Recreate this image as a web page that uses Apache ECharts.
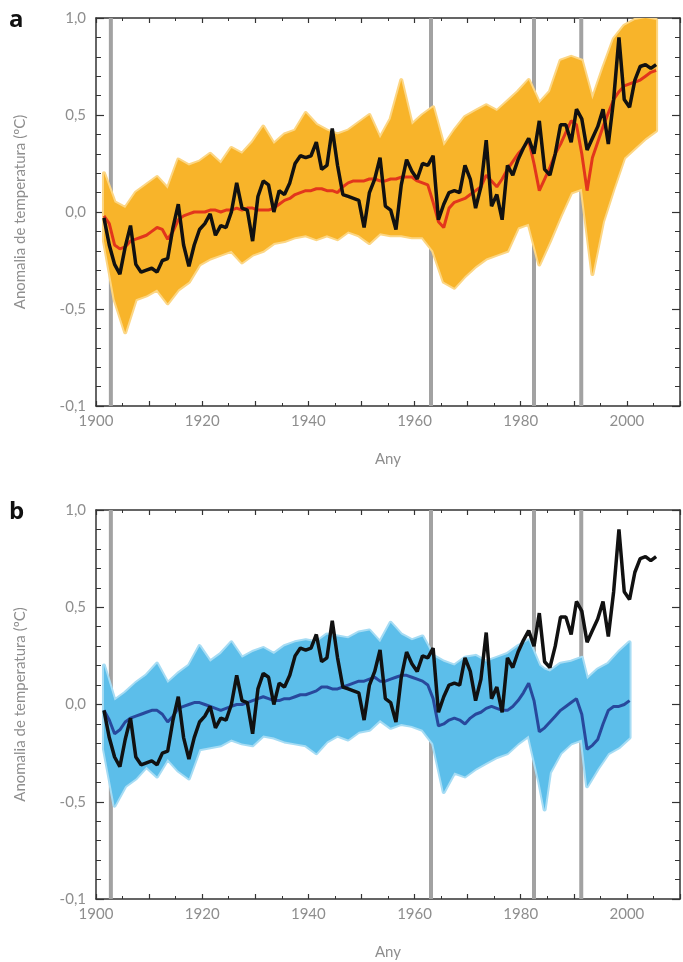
<!DOCTYPE html>
<html>
<head>
<meta charset="utf-8">
<title>Anomalia de temperatura</title>
<script src="https://cdn.jsdelivr.net/npm/echarts@6/dist/echarts.min.js"></script>
<style>
  html, body { margin: 0; padding: 0; background: #fff; }
  #chart { width: 683px; height: 962px; }
</style>
</head>
<body>
<div id="chart"></div>
<script>
// annual means, plotted mid-year
const MID = 0.5;

const obsYears = [];
for (let y = 1901; y <= 2005; y++) obsYears.push(y);

const observed = [
  -0.03, -0.17, -0.27, -0.32, -0.18, -0.07, -0.27, -0.31, -0.30, -0.29,
  -0.31, -0.25, -0.24, -0.08, 0.04, -0.17, -0.28, -0.17, -0.09, -0.06,
  -0.01, -0.12, -0.07, -0.08, 0.00, 0.15, 0.02, 0.01, -0.15, 0.08,
  0.16, 0.14, 0.00, 0.11, 0.09, 0.15, 0.25, 0.29, 0.28, 0.29,
  0.36, 0.22, 0.24, 0.43, 0.24, 0.09, 0.08, 0.07, 0.06, -0.08,
  0.10, 0.17, 0.28, 0.03, 0.01, -0.09, 0.14, 0.27, 0.21, 0.17,
  0.25, 0.24, 0.29, -0.04, 0.04, 0.10, 0.11, 0.10, 0.24, 0.17,
  0.02, 0.13, 0.37, 0.03, 0.09, -0.04, 0.24, 0.19, 0.27, 0.33,
  0.38, 0.30, 0.47, 0.22, 0.19, 0.30, 0.45, 0.45, 0.36, 0.53,
  0.48, 0.32, 0.38, 0.44, 0.53, 0.35, 0.58, 0.90, 0.58, 0.54,
  0.68, 0.75, 0.76, 0.74, 0.76
];

// multi-model mean, natural + anthropogenic forcing (red)
const allForcingMean = [
  -0.02, -0.06, -0.17, -0.19, -0.18, -0.15, -0.14, -0.13, -0.12, -0.10,
  -0.08, -0.09, -0.14, -0.10, -0.04, -0.02, -0.01, 0.00, 0.00, 0.00,
  0.01, 0.01, 0.00, 0.01, 0.01, 0.02, 0.01, 0.02, 0.02, 0.01,
  0.01, 0.01, 0.02, 0.04, 0.06, 0.07, 0.09, 0.10, 0.11, 0.11,
  0.12, 0.12, 0.11, 0.11, 0.10, 0.13, 0.15, 0.16, 0.16, 0.16,
  0.17, 0.17, 0.16, 0.16, 0.17, 0.17, 0.18, 0.18, 0.18, 0.16,
  0.15, 0.14, 0.05, -0.05, -0.08, 0.02, 0.05, 0.06, 0.07, 0.09,
  0.11, 0.13, 0.19, 0.16, 0.13, 0.17, 0.22, 0.26, 0.30, 0.33,
  0.37, 0.25, 0.11, 0.17, 0.23, 0.30, 0.35, 0.41, 0.47, 0.45,
  0.30, 0.11, 0.28, 0.36, 0.44, 0.51, 0.58, 0.62, 0.65, 0.66,
  0.67, 0.68, 0.70, 0.72, 0.73
];

// spread of the all-forcing simulations (yellow)
const ensAYears = [
  1901, 1903, 1905, 1907, 1909, 1911, 1913, 1915, 1917, 1919,
  1921, 1923, 1925, 1927, 1929, 1931, 1933, 1935, 1937, 1939,
  1941, 1943, 1945, 1947, 1949, 1951, 1953, 1955, 1957, 1959,
  1961, 1963, 1965, 1967, 1969, 1971, 1973, 1975, 1977, 1979,
  1981, 1983, 1985, 1987, 1989, 1991, 1993, 1995, 1997, 1999,
  2001, 2003, 2005
];
const ensAHigh = [
  0.20, 0.05, 0.02, 0.10, 0.14, 0.18, 0.12, 0.27, 0.24, 0.26,
  0.30, 0.25, 0.33, 0.30, 0.36, 0.44, 0.35, 0.40, 0.42, 0.51,
  0.45, 0.42, 0.40, 0.42, 0.46, 0.50, 0.38, 0.48, 0.68, 0.45,
  0.50, 0.54, 0.34, 0.42, 0.49, 0.52, 0.55, 0.52, 0.57, 0.62,
  0.68, 0.56, 0.62, 0.78, 0.80, 0.78, 0.58, 0.74, 0.89, 0.96,
  0.99, 1.00, 0.99
];
const ensALow = [
  -0.15, -0.45, -0.62, -0.45, -0.43, -0.40, -0.47, -0.40, -0.36, -0.27,
  -0.24, -0.22, -0.20, -0.26, -0.22, -0.20, -0.16, -0.15, -0.13, -0.12,
  -0.14, -0.12, -0.14, -0.10, -0.12, -0.16, -0.11, -0.12, -0.12, -0.13,
  -0.13, -0.20, -0.36, -0.39, -0.33, -0.28, -0.24, -0.22, -0.20, -0.08,
  -0.06, -0.27, -0.15, -0.02, 0.10, 0.12, -0.32, -0.05, 0.12, 0.28,
  0.33, 0.38, 0.42
];

// natural forcing only: mean (dark blue) and spread (light blue)
const natYears = [];
for (let y = 1901; y <= 2000; y++) natYears.push(y);
const naturalMean = [
  -0.03, -0.08, -0.15, -0.13, -0.09, -0.07, -0.06, -0.05, -0.04, -0.03,
  -0.03, -0.05, -0.09, -0.06, -0.02, -0.01, 0.00, 0.01, 0.01, 0.00,
  -0.01, -0.02, -0.03, -0.02, -0.01, 0.00, 0.00, 0.01, 0.02, 0.03,
  0.04, 0.03, 0.02, 0.02, 0.03, 0.03, 0.04, 0.05, 0.05, 0.06,
  0.07, 0.09, 0.09, 0.08, 0.08, 0.09, 0.10, 0.11, 0.12, 0.12,
  0.13, 0.14, 0.12, 0.12, 0.13, 0.14, 0.15, 0.15, 0.14, 0.13,
  0.12, 0.10, 0.03, -0.11, -0.10, -0.08, -0.07, -0.08, -0.10, -0.07,
  -0.05, -0.04, -0.02, -0.01, -0.02, -0.03, -0.03, -0.01, 0.02, 0.06,
  0.11, 0.02, -0.14, -0.12, -0.09, -0.06, -0.03, -0.01, 0.01, 0.03,
  -0.05, -0.23, -0.21, -0.18, -0.10, -0.03, -0.01, -0.01, 0.00, 0.02
];
const ensNYears = [
  1901, 1903, 1905, 1907, 1909, 1911, 1913, 1915, 1917, 1919,
  1921, 1923, 1925, 1927, 1929, 1931, 1933, 1935, 1937, 1939,
  1941, 1943, 1945, 1947, 1949, 1951, 1953, 1955, 1957, 1959,
  1961, 1963, 1965, 1967, 1969, 1971, 1973, 1975, 1977, 1979,
  1981, 1983, 1984, 1985, 1987, 1989, 1991, 1992, 1994, 1996,
  1998, 2000
];
const ensNHigh = [
  0.20, 0.02, 0.06, 0.11, 0.15, 0.21, 0.11, 0.16, 0.20, 0.30,
  0.22, 0.26, 0.32, 0.24, 0.27, 0.29, 0.26, 0.30, 0.32, 0.33,
  0.32, 0.36, 0.35, 0.34, 0.37, 0.38, 0.32, 0.42, 0.36, 0.33,
  0.35, 0.25, 0.22, 0.20, 0.24, 0.25, 0.22, 0.24, 0.26, 0.30,
  0.33, 0.20, 0.18, 0.17, 0.21, 0.22, 0.24, 0.13, 0.18, 0.21,
  0.27, 0.32
];
const ensNLow = [
  -0.23, -0.52, -0.42, -0.38, -0.32, -0.37, -0.28, -0.34, -0.38, -0.23,
  -0.22, -0.21, -0.18, -0.20, -0.21, -0.16, -0.17, -0.19, -0.20, -0.21,
  -0.25, -0.19, -0.16, -0.18, -0.14, -0.13, -0.08, -0.12, -0.10, -0.11,
  -0.13, -0.20, -0.45, -0.35, -0.37, -0.33, -0.30, -0.27, -0.25, -0.20,
  -0.16, -0.40, -0.54, -0.35, -0.25, -0.20, -0.18, -0.42, -0.33, -0.25,
  -0.22, -0.17
];

// major volcanic eruptions (grey bars)
const eruptions = [1902.8, 1963.1, 1982.5, 1991.4];

const yTickLabels = { '-1': '-0,1', '-0.5': '-0,5', '0': '0,0', '0.5': '0,5', '1': '1,0' };

const FONT = 'Lato, "Open Sans", sans-serif';
const GREY_TEXT = '#8e8e8e';

const chart = echarts.init(document.getElementById('chart'), null, { renderer: 'canvas' });

const pairs = (xs, ys) => xs.map((x, i) => [x + MID, ys[i]]);

// envelope of the model runs: a pale fringe underneath, the dense core on top
function bandRenderer(xs, hi, lo, fill, fringe, opacity) {
  return function (params, api) {
    const pts = [];
    for (let i = 0; i < xs.length; i++) pts.push(api.coord([xs[i] + MID, hi[i]]));
    for (let i = xs.length - 1; i >= 0; i--) pts.push(api.coord([xs[i] + MID, lo[i]]));
    return {
      type: 'group',
      children: [
        { type: 'polygon', shape: { points: pts }, style: { fill: fringe, stroke: fringe, lineWidth: 4, lineJoin: 'round' } },
        { type: 'polygon', shape: { points: pts }, style: { fill: fill, opacity: opacity } }
      ]
    };
  };
}

function eruptionRenderer(params, api) {
  const top = api.coord([api.value(0), 1]);
  const bottom = api.coord([api.value(0), -1]);
  return {
    type: 'rect',
    shape: { x: top[0] - 2, y: top[1], width: 4, height: bottom[1] - top[1] },
    style: { fill: '#a2a2a2' }
  };
}

function xAxisFor(grid, pos) {
  const bottom = pos === 'bottom';
  return {
    gridIndex: grid,
    type: 'value',
    position: pos,
    min: 1900,
    max: 2010,
    interval: 10,
    axisLine: { show: true, onZero: false, lineStyle: { color: '#333', width: 1.5 } },
    axisTick: { show: true, inside: true, length: 5, lineStyle: { color: '#333', width: 1.2 } },
    minorTick: { show: true, splitNumber: 2, length: 3, lineStyle: { color: '#333', width: 1 } },
    splitLine: { show: false },
    axisLabel: {
      show: bottom,
      margin: 8,
      color: GREY_TEXT,
      fontSize: 15,
      fontFamily: FONT,
      formatter: v => (v % 20 === 0 && v < 2010 ? String(v) : '')
    },
    name: bottom ? 'Any' : '',
    nameLocation: 'middle',
    nameGap: 46,
    nameTextStyle: { color: GREY_TEXT, fontSize: 15, fontFamily: FONT }
  };
}

function yAxisFor(grid, pos) {
  const left = pos === 'left';
  return {
    gridIndex: grid,
    type: 'value',
    position: pos,
    min: -1,
    max: 1,
    interval: 0.5,
    axisLine: { show: true, onZero: false, lineStyle: { color: '#333', width: 1.5 } },
    axisTick: { show: true, inside: true, length: 8, lineStyle: { color: '#333', width: 1.2 } },
    minorTick: { show: true, splitNumber: 5, length: 5, lineStyle: { color: '#333', width: 1 } },
    splitLine: { show: false },
    axisLabel: {
      show: left,
      margin: 10,
      color: GREY_TEXT,
      fontSize: 15,
      fontFamily: FONT,
      formatter: v => yTickLabels[String(v)] || ''
    },
    name: left ? 'Anomalia de temperatura (ºC)' : '',
    nameLocation: 'middle',
    nameGap: 68,
    nameTextStyle: { color: GREY_TEXT, fontSize: 15, fontFamily: FONT }
  };
}

const option = {
  animation: false,
  backgroundColor: '#fff',
  grid: [
    { left: 96, top: 18, width: 586, height: 388 },
    { left: 96, top: 510, width: 586, height: 389 }
  ],
  xAxis: [xAxisFor(0, 'bottom'), xAxisFor(0, 'top'), xAxisFor(1, 'bottom'), xAxisFor(1, 'top')],
  yAxis: [yAxisFor(0, 'left'), yAxisFor(0, 'right'), yAxisFor(1, 'left'), yAxisFor(1, 'right')],
  graphic: [
    { type: 'text', left: 9, top: 8, style: { text: 'a', font: 'bold 24px "Open Sans", sans-serif', fill: '#111' } },
    { type: 'text', left: 9, top: 500, style: { text: 'b', font: 'bold 24px "Open Sans", sans-serif', fill: '#111' } }
  ],
  series: [
    // panel a
    {
      type: 'custom', xAxisIndex: 0, yAxisIndex: 0, z: 1, silent: true,
      data: eruptions.map(e => [e, 0]),
      renderItem: eruptionRenderer
    },
    {
      type: 'custom', xAxisIndex: 0, yAxisIndex: 0, z: 2, silent: true, clip: true,
      data: [[1950, 0]],
      renderItem: bandRenderer(ensAYears, ensAHigh, ensALow, '#f8b42a', '#fcd684', 1)
    },
    {
      name: 'Simulacions (forçament natural i antropogènic)', type: 'line', xAxisIndex: 0, yAxisIndex: 0, z: 3,
      data: pairs(obsYears, allForcingMean),
      showSymbol: false,
      lineStyle: { color: '#e2361c', width: 3 }
    },
    {
      name: 'Observacions', type: 'line', xAxisIndex: 0, yAxisIndex: 0, z: 4,
      data: pairs(obsYears, observed),
      showSymbol: false,
      lineStyle: { color: '#111', width: 3.5 }
    },
    // panel b
    {
      type: 'custom', xAxisIndex: 2, yAxisIndex: 2, z: 1, silent: true,
      data: eruptions.map(e => [e, 0]),
      renderItem: eruptionRenderer
    },
    {
      type: 'custom', xAxisIndex: 2, yAxisIndex: 2, z: 2, silent: true, clip: true,
      data: [[1950, 0]],
      renderItem: bandRenderer(ensNYears, ensNHigh, ensNLow, '#4fb9e8', '#a6dcf4', 0.85)
    },
    {
      name: 'Simulacions (forçament natural)', type: 'line', xAxisIndex: 2, yAxisIndex: 2, z: 3,
      data: pairs(natYears, naturalMean),
      showSymbol: false,
      lineStyle: { color: '#28489c', width: 3 }
    },
    {
      name: 'Observacions', type: 'line', xAxisIndex: 2, yAxisIndex: 2, z: 4,
      data: pairs(obsYears, observed),
      showSymbol: false,
      lineStyle: { color: '#111', width: 3.5 }
    }
  ]
};

chart.setOption(option);
</script>
</body>
</html>
